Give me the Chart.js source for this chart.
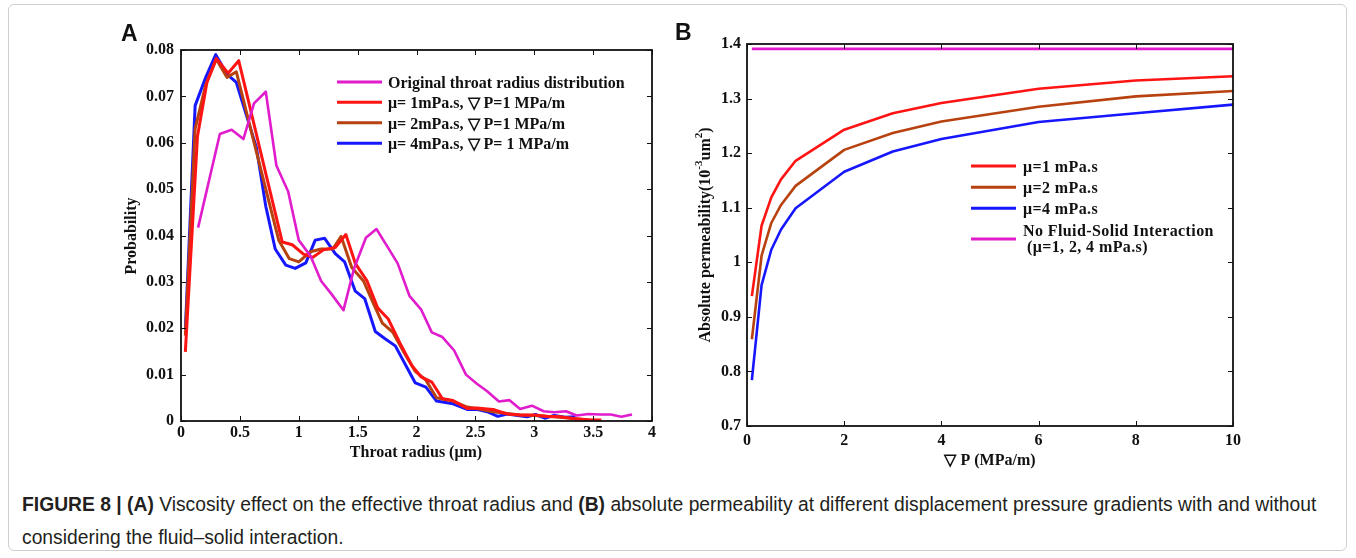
<!DOCTYPE html>
<html>
<head>
<meta charset="utf-8">
<script src="https://cdn.jsdelivr.net/npm/chart.js@4.4.0/dist/chart.umd.min.js"></script>
<style>
  html, body { margin: 0; padding: 0; background: #fff; }
  body { width: 1356px; height: 558px; position: relative; overflow: hidden; }
  #frame { position: absolute; left: 8px; top: 4px; width: 1339px; height: 547px; border: 1px solid #cfcfcf; border-radius: 6px; box-sizing: border-box; }
  #boxA { position: absolute; left: 0; top: 0; }
  #boxB { position: absolute; left: 660px; top: 0; }
  #caption { position: absolute; left: 22px; top: 488px; width: 1330px; font-family: "Liberation Sans", Arial, sans-serif; font-size: 19.3px; line-height: 33px; color: #231f20; white-space: nowrap; }
  #caption b { font-weight: bold; }
</style>
</head>
<body>
<div id="frame"></div>
<canvas id="boxA" width="660" height="480"></canvas>
<canvas id="boxB" width="696" height="480"></canvas>
<div id="caption"><b>FIGURE 8 | (A)</b> Viscosity effect on the effective throat radius and <b>(B)</b> absolute permeability at different displacement pressure gradients with and without<br>considering the fluid–solid interaction.</div>
<script>
// --- Panel A : throat radius distribution ---
const origX = [0.145, 0.33, 0.43, 0.53, 0.62, 0.72, 0.81, 0.91, 1.0, 1.1, 1.19, 1.28, 1.38, 1.47, 1.57, 1.66, 1.75, 1.84, 1.94, 2.04, 2.13, 2.22, 2.32, 2.42, 2.51, 2.6, 2.7, 2.79, 2.88, 2.98, 3.08, 3.17, 3.27, 3.36, 3.46, 3.56, 3.65, 3.74, 3.83];
const origY = [0.0417, 0.0619, 0.0628, 0.0608, 0.0685, 0.0710, 0.0551, 0.0495, 0.0390, 0.0356, 0.0302, 0.0273, 0.0239, 0.0329, 0.0395, 0.0414, 0.0377, 0.0340, 0.0270, 0.0240, 0.0191, 0.0181, 0.0152, 0.0100, 0.0081, 0.0064, 0.0042, 0.0045, 0.0026, 0.0033, 0.0021, 0.0019, 0.0021, 0.0012, 0.0015, 0.0014, 0.0014, 0.0009, 0.0014];

const mu1X = [0.037, 0.14, 0.22, 0.30, 0.40, 0.49, 0.57, 0.65, 0.73, 0.86, 0.945, 1.04, 1.12, 1.21, 1.31, 1.40, 1.48, 1.58, 1.67, 1.76, 1.86, 1.96, 2.04, 2.13, 2.22, 2.31, 2.43, 2.51, 2.65, 2.77, 2.88, 3.0, 3.1, 3.22, 3.35, 3.47, 3.57];
const mu1Y = [0.0149, 0.0614, 0.0730, 0.0782, 0.0750, 0.0777, 0.0693, 0.0608, 0.0523, 0.0386, 0.0380, 0.0360, 0.0353, 0.0369, 0.0374, 0.0402, 0.0340, 0.0302, 0.0244, 0.0220, 0.0168, 0.0120, 0.0095, 0.0084, 0.0048, 0.0044, 0.0027, 0.0028, 0.0025, 0.0015, 0.0013, 0.0013, 0.0010, 0.0009, 0.0005, 0.0002, 0.0002];

const mu2X = [0.037, 0.12, 0.21, 0.30, 0.39, 0.47, 0.56, 0.64, 0.72, 0.83, 0.92, 1.0, 1.10, 1.19, 1.29, 1.36, 1.45, 1.55, 1.63, 1.71, 1.80, 1.90, 1.99, 2.08, 2.17, 2.31, 2.43, 2.51, 2.65, 2.77, 2.88, 3.0, 3.1, 3.22, 3.35, 3.47, 3.55];
const mu2Y = [0.0184, 0.0630, 0.0725, 0.0780, 0.0741, 0.0753, 0.0662, 0.0581, 0.0500, 0.0390, 0.0350, 0.0343, 0.0365, 0.0371, 0.0371, 0.0398, 0.0331, 0.0302, 0.0256, 0.0211, 0.0191, 0.0145, 0.0107, 0.0088, 0.0050, 0.0043, 0.0030, 0.0027, 0.0020, 0.0016, 0.0013, 0.0012, 0.0010, 0.0008, 0.0005, 0.0002, 0.0001];

const mu4X = [0.037, 0.12, 0.21, 0.295, 0.39, 0.47, 0.55, 0.64, 0.72, 0.80, 0.89, 0.97, 1.06, 1.14, 1.22, 1.31, 1.39, 1.48, 1.56, 1.65, 1.73, 1.82, 1.92, 1.99, 2.08, 2.17, 2.31, 2.43, 2.51, 2.6, 2.69, 2.77, 2.86, 2.94, 3.01, 3.09, 3.17, 3.26, 3.35];
const mu4Y = [0.0197, 0.0680, 0.0741, 0.0790, 0.0748, 0.0730, 0.0664, 0.0590, 0.0463, 0.0371, 0.0336, 0.0329, 0.0341, 0.0390, 0.0394, 0.0361, 0.0343, 0.0280, 0.0264, 0.0193, 0.0178, 0.0162, 0.0115, 0.0082, 0.0073, 0.0043, 0.0037, 0.0025, 0.0025, 0.0020, 0.0010, 0.0015, 0.0012, 0.0009, 0.0014, 0.0006, 0.0012, 0.0008, 0.0009];

const labelsA = ['Original throat radius distribution', 'μ= 1mPa.s, ▽ P=1 MPa/m', 'μ= 2mPa.s, ▽ P=1 MPa/m', 'μ= 4mPa.s, ▽ P= 1 MPa/m'];

// --- Panel B : permeability vs pressure gradient ---
const gradP = [0.1, 0.3, 0.5, 0.7, 1, 2, 3, 4, 6, 8, 10];
const perm1 = [0.938, 1.067, 1.119, 1.152, 1.186, 1.243, 1.273, 1.292, 1.318, 1.333, 1.341];
const perm2 = [0.859, 1.012, 1.072, 1.105, 1.140, 1.206, 1.237, 1.258, 1.285, 1.304, 1.314];
const perm4 = [0.784, 0.958, 1.023, 1.060, 1.099, 1.166, 1.203, 1.226, 1.257, 1.273, 1.289];
const permNoFSI = [1.391, 1.391, 1.391, 1.391, 1.391, 1.391, 1.391, 1.391, 1.391, 1.391, 1.391];
const labelsB = ['μ=1 mPa.s', 'μ=2 mPa.s', 'μ=4 mPa.s', 'No Fluid-Solid Interaction'];

const MAGENTA = '#e01ccc', RED = '#ff1414', BROWN = '#b8420f', BLUE = '#1717ff';
const SERIF = '"Liberation Serif", "Times New Roman", serif';

const pts = (xs, ys) => xs.map((x, i) => ({ x: x, y: ys[i] }));
const fmt = v => String(+Number(v).toFixed(3));

// cadre, graduations vers l'intérieur, légende et titres
const figurePlugin = {
  id: 'figure',
  afterDraw(chart, args, o) {
    const ctx = chart.ctx, a = chart.chartArea;
    const sx = chart.scales.x, sy = chart.scales.y;
    ctx.save();
    ctx.strokeStyle = '#111';
    ctx.lineWidth = 1;
    const seg = (x1, y1, x2, y2) => { ctx.beginPath(); ctx.moveTo(x1, y1); ctx.lineTo(x2, y2); ctx.stroke(); };
    sx.ticks.forEach(t => {
      const p = Math.round(sx.getPixelForValue(t.value)) + 0.5;
      seg(p, a.bottom, p, a.bottom - 5);
      seg(p, a.top, p, a.top + 5);
    });
    sy.ticks.forEach(t => {
      const p = Math.round(sy.getPixelForValue(t.value)) + 0.5;
      seg(a.left, p, a.left + 5, p);
      seg(a.right, p, a.right - 5, p);
    });
    ctx.lineWidth = 1.8;
    ctx.strokeRect(a.left, a.top, a.right - a.left, a.bottom - a.top);

    // légende
    ctx.font = 'bold 16px ' + SERIF;
    ctx.letterSpacing = o.legend.spacing || '0px';
    ctx.textAlign = 'left';
    ctx.textBaseline = 'middle';
    o.legend.rows.forEach((r, i) => {
      const ds = chart.data.datasets[i];
      ctx.strokeStyle = ds.borderColor;
      ctx.lineWidth = 3;
      seg(o.legend.x1, r, o.legend.x2, r);
      ctx.fillStyle = '#111';
      const lines = [ds.label].concat(o.legend.extra && o.legend.extra[i] ? [o.legend.extra[i]] : []);
      const off = lines.length > 1 ? -7 : 2;
      lines.forEach((s, k) => ctx.fillText(s, o.legend.tx + (k ? 4 : 0), r + off + k * 16));
    });
    ctx.letterSpacing = '0px';

    // titres des axes
    ctx.fillStyle = '#111';
    ctx.font = 'bold 16px ' + SERIF;
    ctx.textAlign = 'center';
    ctx.fillText(o.xTitle.text, o.xTitle.x, o.xTitle.y);
    ctx.save();
    ctx.translate(o.yTitle.x, o.yTitle.y);
    ctx.rotate(-Math.PI / 2);
    ctx.textAlign = 'left';
    const parts = o.yTitle.parts;
    const widthOf = p => { ctx.font = 'bold ' + (p.sup ? 11 : 16) + 'px ' + SERIF; return ctx.measureText(p.t).width; };
    const total = parts.reduce((s, p) => s + widthOf(p), 0);
    let cx = -total / 2;
    parts.forEach(p => {
      const w = widthOf(p);
      ctx.fillText(p.t, cx, p.sup ? -7 : 0);
      cx += w;
    });
    ctx.restore();

    // lettre du panneau
    ctx.font = 'bold 23px "Liberation Sans", Arial, sans-serif';
    ctx.textAlign = 'left';
    ctx.textBaseline = 'alphabetic';
    ctx.fillText(o.panel.text, o.panel.x, o.panel.y);
    ctx.restore();
  }
};

const tickFont = { family: SERIF, size: 16, weight: 'bold' };

function axis(min, max, step, pad, fit) {
  return {
    type: 'linear', min: min, max: max,
    grid: { display: false, drawTicks: false, tickLength: 0 }, border: { display: false },
    ticks: { stepSize: step, color: '#111', font: tickFont, padding: pad, callback: fmt },
    afterFit: fit
  };
}

const lineStyle = { fill: false, pointRadius: 0, tension: 0, borderJoinStyle: 'round' };

new Chart(document.getElementById('boxA'), {
  type: 'line',
  data: {
    datasets: [
      Object.assign({ label: labelsA[0], data: pts(origX, origY), borderColor: MAGENTA, borderWidth: 2.6 }, lineStyle),
      Object.assign({ label: labelsA[1], data: pts(mu1X, mu1Y), borderColor: RED, borderWidth: 3 }, lineStyle),
      Object.assign({ label: labelsA[2], data: pts(mu2X, mu2Y), borderColor: BROWN, borderWidth: 3 }, lineStyle),
      Object.assign({ label: labelsA[3], data: pts(mu4X, mu4Y), borderColor: BLUE, borderWidth: 3 }, lineStyle)
    ]
  },
  options: {
    responsive: false,
    animation: false,
    layout: { padding: { left: 101, right: 8, top: 50, bottom: 29 } },
    scales: {
      x: axis(0, 4, 0.5, 2, s => { s.height = 30; }),
      y: axis(0, 0.08, 0.01, 7, s => { s.width = 80; })
    },
    plugins: {
      legend: { display: false },
      tooltip: { enabled: false },
      figure: {
        legend: { x1: 337, x2: 382, tx: 388, rows: [82, 102.3, 122.7, 143.3] },
        xTitle: { text: 'Throat radius (μm)', x: 416, y: 453 },
        yTitle: { parts: [{ t: 'Probability' }], x: 132, y: 236 },
        panel: { text: 'A', x: 121, y: 41 }
      }
    }
  },
  plugins: [figurePlugin]
});

new Chart(document.getElementById('boxB'), {
  type: 'line',
  data: {
    datasets: [
      Object.assign({ label: labelsB[0], data: pts(gradP, perm1), borderColor: RED, borderWidth: 2.6 }, lineStyle),
      Object.assign({ label: labelsB[1], data: pts(gradP, perm2), borderColor: BROWN, borderWidth: 2.6 }, lineStyle),
      Object.assign({ label: labelsB[2], data: pts(gradP, perm4), borderColor: BLUE, borderWidth: 2.6 }, lineStyle),
      Object.assign({ label: labelsB[3], data: pts(gradP, permNoFSI), borderColor: MAGENTA, borderWidth: 2.6 }, lineStyle)
    ]
  },
  options: {
    responsive: false,
    animation: false,
    layout: { padding: { left: 27, right: 123, top: 44, bottom: 24 } },
    scales: {
      x: axis(0, 10, 2, 5, s => { s.height = 30; }),
      y: axis(0.7, 1.4, 0.1, 6, s => { s.width = 60; })
    },
    plugins: {
      legend: { display: false },
      tooltip: { enabled: false },
      figure: {
        legend: { x1: 311, x2: 356, tx: 363, rows: [166, 187.3, 208.3, 239], extra: [null, null, null, '(μ=1, 2, 4 mPa.s)'], spacing: '0.4px' },
        xTitle: { text: '▽ P (MPa/m)', x: 330, y: 461 },
        yTitle: { parts: [{ t: 'Absolute permeability(10' }, { t: '-3', sup: true }, { t: 'um' }, { t: '2', sup: true }, { t: ')' }], x: 46, y: 235 },
        panel: { text: 'B', x: 15, y: 40 }
      }
    }
  },
  plugins: [figurePlugin]
});
</script>
</body>
</html>
